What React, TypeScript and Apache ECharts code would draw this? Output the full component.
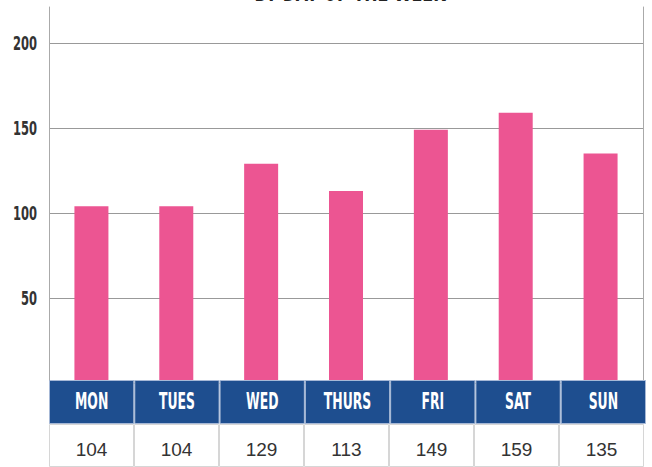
import React, { useEffect, useRef } from "react";
import * as echarts from "echarts";

const days = ["MON", "TUES", "WED", "THURS", "FRI", "SAT", "SUN"];
const visits = [104, 104, 129, 113, 149, 159, 135];
const yTicks = [50, 100, 150, 200];
const titleText = "BY DAY OF THE WEEK";
const yMax = 200;
const frameMax = 221;
const yInterval = 50;

const condensed = "'DejaVu Sans Condensed', 'DejaVu Sans', sans-serif";

export default function App() {
  const ref = useRef<HTMLDivElement>(null);
  useEffect(() => {
    const chart = echarts.init(ref.current!, null, { renderer: "svg" });
    chart.setOption({
      animation: false,
      backgroundColor: "#ffffff",
      grid: [
        { left: 49, right: 9, top: 43, bottom: 84 },
        { left: 49, right: 6, top: 380, height: 44 },
        { left: 49, right: 8, top: 424, height: 43 },
        { left: 49, right: 9, top: 7, bottom: 84 },
      ],
      xAxis: [
        { type: "category", data: days, gridIndex: 0, axisLine: { show: false }, axisTick: { show: false }, axisLabel: { show: false } },
        { type: "category", data: days, gridIndex: 1, show: false },
        { type: "category", data: days, gridIndex: 2, show: false },
        { type: "category", data: days, gridIndex: 3, show: false },
      ],
      yAxis: [
        {
          type: "value", gridIndex: 0, min: 0, max: yMax, interval: yInterval,
          axisLine: { show: false },
          axisTick: { show: false },
          splitLine: { lineStyle: { color: "#999999", width: 1 } },
          axisLabel: { show: false },
        },
        { type: "value", gridIndex: 1, min: 0, max: 1, show: false },
        { type: "value", gridIndex: 2, min: 0, max: 1, show: false },
        {
          type: "value", gridIndex: 3, min: 0, max: frameMax,
          axisLine: { show: true, lineStyle: { color: "#aaaaaa", width: 1 } },
          axisTick: { show: false }, axisLabel: { show: false }, splitLine: { show: false },
        },
        {
          type: "value", gridIndex: 3, position: "right", min: 0, max: frameMax,
          axisLine: { show: true, lineStyle: { color: "#aaaaaa", width: 1 } },
          axisTick: { show: false }, axisLabel: { show: false }, splitLine: { show: false },
        },
      ],
      series: [
        {
          type: "bar", xAxisIndex: 0, yAxisIndex: 0, data: visits, barWidth: 34,
          itemStyle: { color: "#ec5592" }, z: 2,
        },
        {
          type: "bar", xAxisIndex: 1, yAxisIndex: 1, data: days.map(() => 1), barWidth: "100%",
          itemStyle: { color: "#1e4e8f", borderColor: "#a6b8d6", borderWidth: 1 }, z: 5,
        },
        {
          type: "bar", xAxisIndex: 2, yAxisIndex: 2, data: days.map(() => 1), barWidth: "100%",
          itemStyle: { color: "#ffffff", borderColor: "#d6d6d6", borderWidth: 1 }, z: 5,
          label: {
            show: true, position: "inside", offset: [0, 4],
            formatter: (p: any) => String(visits[p.dataIndex]),
            fontFamily: "'Liberation Sans', Arial, sans-serif", fontSize: 19, color: "#333333",
          },
        },
      ],
    });

    const bandY = chart.convertToPixel({ yAxisIndex: 1 }, 0.5) as number;
    const dayTexts = days.map((d) => ({
      type: "text",
      x: chart.convertToPixel({ xAxisIndex: 1 }, d) as number,
      y: bandY - 1,
      scaleX: 0.6,
      z: 20,
      style: {
        text: d, fill: "#ffffff", font: `bold 23px ${condensed}`,
        textAlign: "center", textVerticalAlign: "middle",
      },
    }));
    const tickTexts = yTicks.map((v) => ({
      type: "text",
      x: 37,
      y: chart.convertToPixel({ yAxisIndex: 0 }, v) as number,
      scaleX: 0.64,
      z: 20,
      style: {
        text: String(v), fill: "#333333", font: `bold 20px ${condensed}`,
        textAlign: "right", textVerticalAlign: "middle",
      },
    }));
    const titleEl = {
      type: "text",
      x: 350,
      y: -8.5,
      scaleX: 0.68,
      z: 20,
      style: {
        text: titleText, fill: "#222222", font: `bold 26px ${condensed}`,
        textAlign: "center", textVerticalAlign: "middle",
      },
    };
    chart.setOption({ graphic: [titleEl, ...tickTexts, ...dayTexts] });
    return () => chart.dispose();
  }, []);
  return <div ref={ref} style={{ position: "fixed", left: 0, top: 0, width: 652, height: 467 }} />;
}
